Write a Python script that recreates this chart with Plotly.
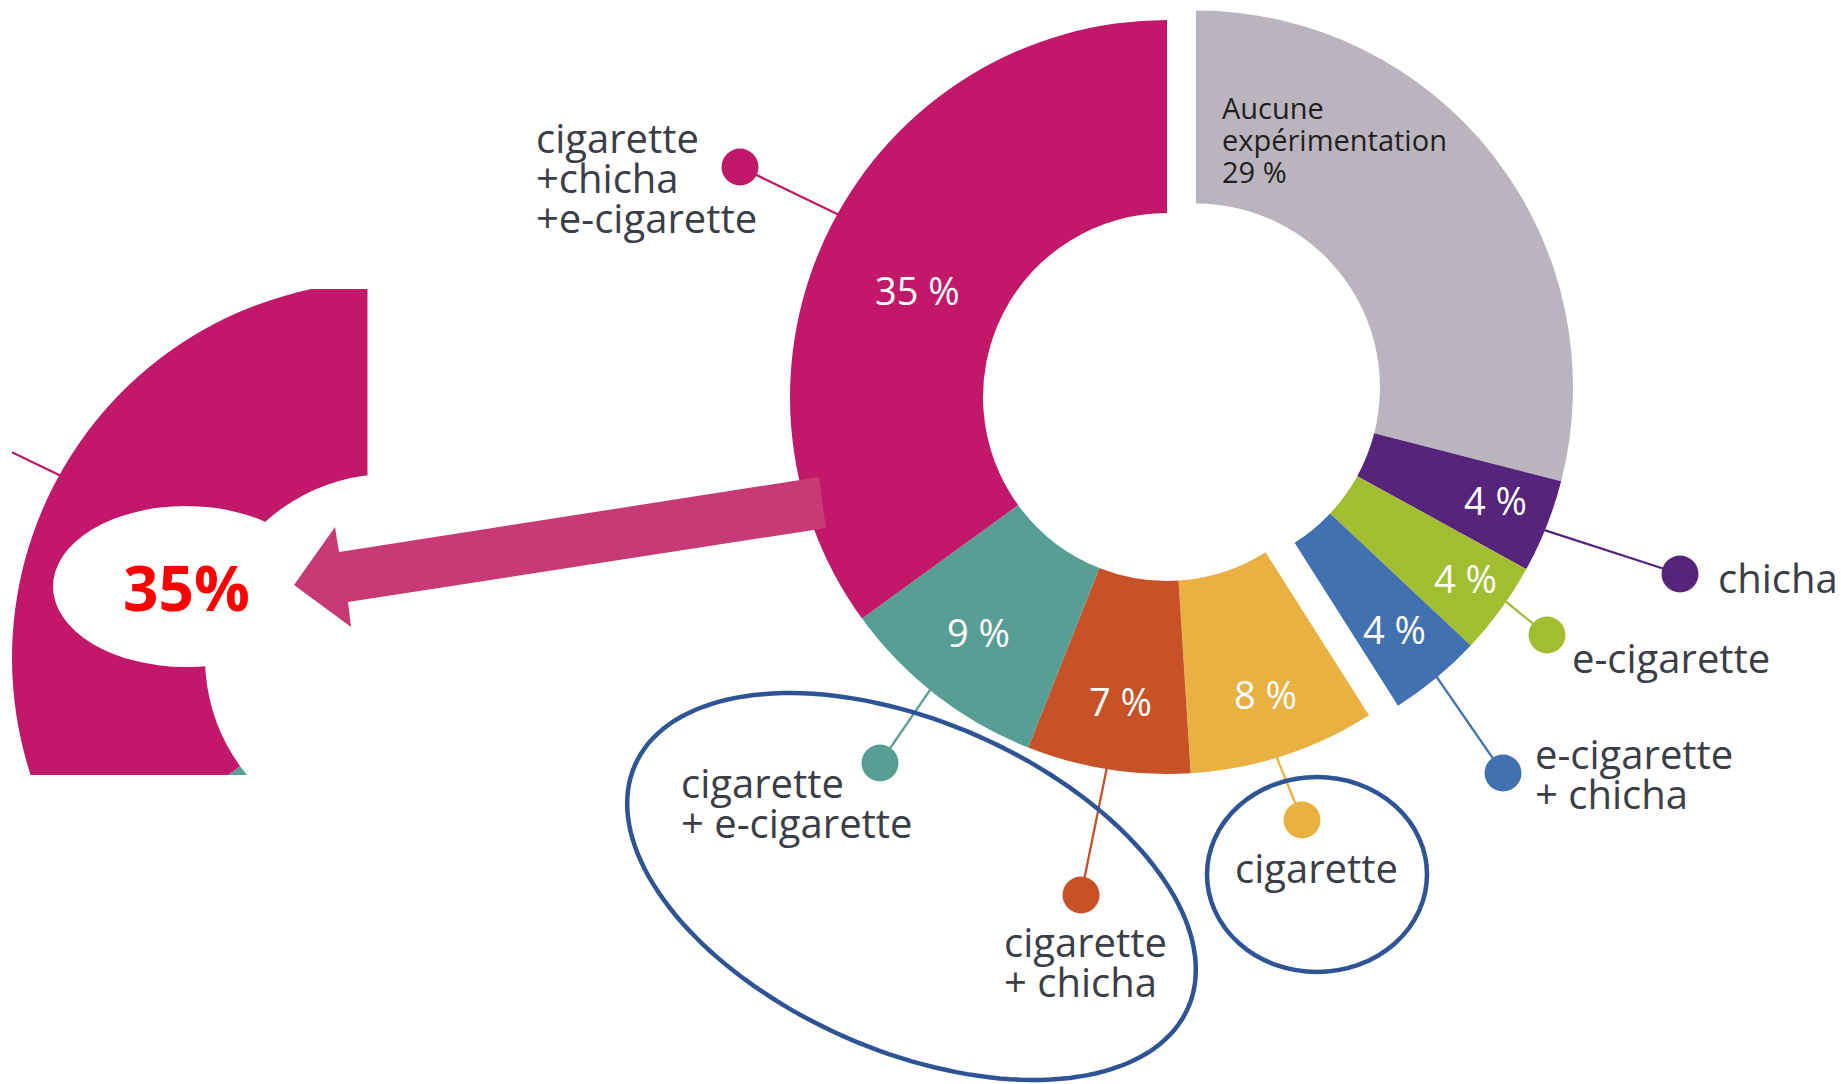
import numpy as np
import plotly.graph_objects as go

W, H = 1841, 1084

# ---------------- data ----------------
categories = ["Aucune expérimentation", "chicha", "e-cigarette", "e-cigarette + chicha",
              "cigarette", "cigarette + chicha", "cigarette + e-cigarette",
              "cigarette + chicha + e-cigarette"]
values = [29, 4, 4, 4, 8, 7, 9, 35]
colors = ["#B9B4BD", "#56247A", "#A3BD31", "#4271B2", "#E8B142", "#C85228", "#579E94", "#C2186A"]
shifted_group = [True, True, True, True, False, False, False, False]
label_lines = [None, ["chicha"], ["e-cigarette"], ["e-cigarette", "+ chicha"], ["cigarette"],
               ["cigarette", "+ chicha"], ["cigarette", "+ e-cigarette"],
               ["cigarette", "+chicha", "+e-cigarette"]]
none_label = ["Aucune", "expérimentation", f"{values[0]} %"]

# ---------------- layout / style constants ----------------
CENTER = (1167.0, 397.0)
R = 377.0
HOLE = 0.488
SHIFT = (29.0, -9.5)
INSET_OFFSET = (-778.0, 261.0)
INSET_CLIP = (12.0, 289.0, 367.5, 775.0)
PCT_POS = [None, (0.43, 0.85), (0.45, 0.875), (0.51, 0.83), (0.49, 0.83), (0.49, 0.815),
           (0.53, 0.80), (0.47, 0.72)]
DOTS = [None, (1680, 574), (1547, 635), (1503, 773), (1302, 820), (1081, 895), (880, 763), (740, 167)]
EDGES = [None, (1544, 530), (1505, 601), (1436, 676), (1277, 758), (1107, 767), (930, 690), (837, 214)]
LABEL_ANCHORS = [None, (1716, 593, "left"), (1570, 673, "left"), (1533, 769, "left"),
                 (1316, 883, "center"), (1002, 957, "left"), (679, 798, "left"),
                 (534, 153, "left")]
LINE_STEP = 40
FS = 40
TEXT_COLOR = "#3B3D47"
TRANSPARENT = "rgba(0,0,0,0)"


def domain(cx, cy):
    return dict(x=[(cx - R) / W, (cx + R) / W], y=[1 - (cy + R) / H, 1 - (cy - R) / H])


def pie(cx, cy, cols):
    return go.Pie(values=values, labels=categories, sort=False, direction="clockwise",
                  rotation=0, hole=HOLE, marker=dict(colors=cols, line=dict(width=0)),
                  textinfo="none", hoverinfo="label+percent", showlegend=False,
                  domain=domain(cx, cy))


fig = go.Figure()

# callout leader lines + dots (cartesian layer, beneath the pies)
for i, (dot, edge) in enumerate(zip(DOTS, EDGES)):
    if dot is None:
        continue
    d = np.array(edge, float) - np.array(dot, float)
    end = np.array(edge, float) + 22 * d / np.linalg.norm(d)
    fig.add_trace(go.Scatter(x=[dot[0], end[0]], y=[dot[1], end[1]], mode="lines",
                             line=dict(color=colors[i], width=2.3), hoverinfo="skip",
                             showlegend=False))
    fig.add_trace(go.Scatter(x=[dot[0]], y=[dot[1]], mode="markers",
                             marker=dict(color=colors[i], size=37, line=dict(width=0)),
                             hoverinfo="skip", showlegend=False))

# copy of the pink leader line inside the inset, clipped to the inset box
p0 = np.array(DOTS[7], float) + INSET_OFFSET
p1 = np.array(EDGES[7], float) + INSET_OFFSET
p1 = p1 + 22 * (p1 - p0) / np.linalg.norm(p1 - p0)
t = (INSET_CLIP[0] - p0[0]) / (p1[0] - p0[0])
pc = p0 + t * (p1 - p0)
fig.add_trace(go.Scatter(x=[pc[0], p1[0]], y=[pc[1], p1[1]], mode="lines",
                         line=dict(color=colors[7], width=2.3), hoverinfo="skip",
                         showlegend=False))

# donut: left group in place, right group offset
left_cols = [TRANSPARENT if s else c for s, c in zip(shifted_group, colors)]
right_cols = [c if s else TRANSPARENT for s, c in zip(shifted_group, colors)]
fig.add_trace(pie(CENTER[0], CENTER[1], left_cols))
fig.add_trace(pie(CENTER[0] + SHIFT[0], CENTER[1] + SHIFT[1], right_cols))
# inset copy (magnified view box)
fig.add_trace(pie(CENTER[0] + INSET_OFFSET[0], CENTER[1] + INSET_OFFSET[1], colors))

shapes = []
x0c, y0c, x1c, y1c = INSET_CLIP
white = dict(type="rect", xref="x", yref="y", fillcolor="white", line=dict(width=0), layer="above")
shapes.append({**white, "x0": x1c, "x1": 783, "y0": 240, "y1": H})
shapes.append({**white, "x0": -5, "x1": x1c + 3, "y0": y1c, "y1": H})
shapes.append({**white, "x0": -5, "x1": x1c + 3, "y0": 240, "y1": y0c})
shapes.append({**white, "x0": -5, "x1": x0c, "y0": y0c - 3, "y1": y1c + 3})
# white oval holding the highlighted value
shapes.append(dict(type="circle", xref="x", yref="y", x0=53, x1=319, y0=506, y1=667,
                   fillcolor="white", line=dict(width=0), layer="above"))

# arrow
arrow = [(819, 477), (339, 552), (335, 527), (294, 585), (351, 627), (348, 602), (826, 528)]
shapes.append(dict(type="path", xref="x", yref="y", layer="above",
                   path="M " + " L ".join(f"{x},{y}" for x, y in arrow) + " Z",
                   fillcolor="rgb(200,58,118)", line=dict(width=0)))


def ellipse_path(cx, cy, a, b, phi_deg, n=160):
    tt = np.linspace(0, 2 * np.pi, n, endpoint=False)
    ph = np.radians(phi_deg)
    xs = cx + a * np.cos(tt) * np.cos(ph) - b * np.sin(tt) * np.sin(ph)
    ys = cy + a * np.cos(tt) * np.sin(ph) + b * np.sin(tt) * np.cos(ph)
    return "M " + " L ".join(f"{x:.1f},{y:.1f}" for x, y in zip(xs, ys)) + " Z"


ring = dict(color="rgb(47,84,150)", width=4.5)
shapes.append(dict(type="path", xref="x", yref="y", layer="above",
                   path=ellipse_path(911.5, 886.5, 302, 164.5, 23.7), line=ring))
shapes.append(dict(type="circle", xref="x", yref="y", layer="above",
                   x0=1207, x1=1427, y0=777, y1=972, line=ring))

annotations = []
# percentage labels inside slices, placed from the cumulative angles
cum = np.cumsum(values)
for i, v in enumerate(values):
    if PCT_POS[i] is None:
        continue
    frac, rf = PCT_POS[i]
    ang = 2 * np.pi * (cum[i] - v + frac * v) / sum(values)
    cx, cy = CENTER
    if shifted_group[i]:
        cx, cy = cx + SHIFT[0], cy + SHIFT[1]
    annotations.append(dict(x=cx + rf * R * np.sin(ang), y=cy - rf * R * np.cos(ang),
                            xref="x", yref="y", text=f"{v} %", showarrow=False,
                            font=dict(family="Open Sans", size=38, color="white"),
                            xanchor="center", yanchor="middle"))

# callout labels
for i, lines in enumerate(label_lines):
    if lines is None:
        continue
    ax, base, align = LABEL_ANCHORS[i]
    for k, line in enumerate(lines):
        annotations.append(dict(x=ax, y=base + k * LINE_STEP - 0.388 * FS, xref="x", yref="y",
                                text=line, showarrow=False, xanchor=align, yanchor="middle",
                                font=dict(family="Open Sans", size=FS, color=TEXT_COLOR)))

# "Aucune expérimentation" label inside the grey slice
for k, line in enumerate(none_label):
    annotations.append(dict(x=1220, y=119 + k * 32 - 0.388 * 29, xref="x", yref="y",
                            text=line, showarrow=False, xanchor="left", yanchor="middle",
                            font=dict(family="Open Sans", size=29, color="#231F20")))

# highlighted value in the inset
annotations.append(dict(x=186, y=587, xref="x", yref="y", text=f"{values[7]}%",
                        showarrow=False, xanchor="center", yanchor="middle",
                        font=dict(family="Open Sans", size=62, color="#FF0000", weight="bold")))

fig.update_layout(
    width=W, height=H, margin=dict(l=0, r=0, t=0, b=0, pad=0),
    paper_bgcolor="white", plot_bgcolor="white",
    xaxis=dict(range=[0, W], visible=False, fixedrange=True, domain=[0, 1]),
    yaxis=dict(range=[H, 0], visible=False, fixedrange=True, domain=[0, 1]),
    shapes=shapes, annotations=annotations, showlegend=False,
)

fig.write_html("out.html", config={"displayModeBar": False},
               post_script="document.body.style.margin='0';")
